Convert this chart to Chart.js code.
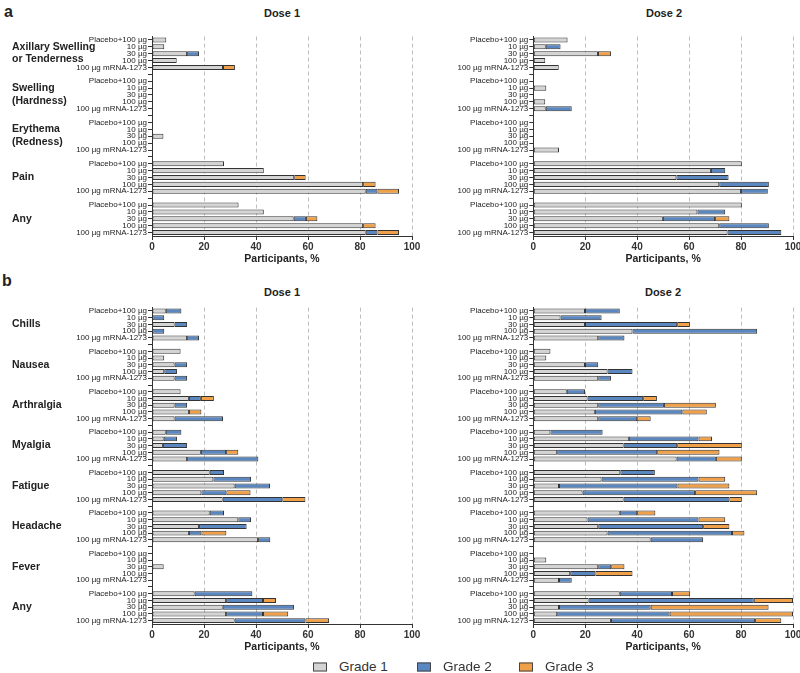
<!DOCTYPE html>
<html>
<head>
<meta charset="utf-8">
<script src="https://cdn.jsdelivr.net/npm/chart.js@4.4.1/dist/chart.umd.min.js"></script>
<style>
  body { margin: 0; background: #fff; font-family: Arial, 'Liberation Sans', sans-serif; color: #222; }
  #page { position: relative; width: 800px; height: 673px; overflow: hidden; }
  canvas { position: absolute; }
  .txt { position: absolute; font-weight: bold; white-space: nowrap; transform: translate(-50%, -50%); }
  .letter { font-size: 16px; transform: translate(0, -50%); }
  .dose { font-size: 11px; }
  .legend-box { position: absolute; width: 14px; height: 9px; border: 1px solid #444; box-sizing: border-box; transform: translateY(-50%); }
  .legend-text { position: absolute; font-size: 13.5px; color: #333; transform: translateY(-50%); }
</style>
</head>
<body>
<div id="page">
  <div class="txt letter" style="left:4px; top:12px;">a</div>
  <div class="txt dose" style="left:282px; top:13px;">Dose 1</div>
  <div class="txt dose" style="left:664px; top:13px;">Dose 2</div>
  <div class="txt letter" style="left:2px; top:281px;">b</div>
  <div class="txt dose" style="left:282px; top:292px;">Dose 1</div>
  <div class="txt dose" style="left:663px; top:292px;">Dose 2</div>

  <canvas id="a1" width="424" height="238" style="left:0; top:30px;"></canvas>
  <canvas id="a2" width="380" height="238" style="left:420px; top:30px;"></canvas>
  <canvas id="b1" width="424" height="356" style="left:0; top:300px;"></canvas>
  <canvas id="b2" width="380" height="356" style="left:420px; top:300px;"></canvas>

  <div id="legend"></div>
</div>
<script>
  /* DATA */

  const doseLabels = ['Placebo+100 µg', '10 µg', '30 µg', '100 µg', '100 µg mRNA-1273'];
  const localGroups = ['Axillary Swelling\nor Tenderness', 'Swelling\n(Hardness)', 'Erythema\n(Redness)', 'Pain', 'Any'];
  const systemicGroups = ['Chills', 'Nausea', 'Arthralgia', 'Myalgia', 'Fatigue', 'Headache', 'Fever', 'Any'];
  const gradeNames = ['Grade 1', 'Grade 2', 'Grade 3'];
  const xTickValues = [0, 20, 40, 60, 80, 100];

  // local reactions, % per grade, one row per group, in doseLabels order
  const localDose1Grade1 = [[5.5, 4.7, 13.5, 9.5, 27.3], [0, 0, 0, 0, 0], [0, 0, 4.4, 0, 0], [27.7, 43, 54.7, 81.2, 82.2], [33.3, 43, 54.5, 81.2, 82.2]];
  const localDose1Grade2 = [[0, 0, 4.6, 0, 0], [0, 0, 0, 0, 0], [0, 0, 0, 0, 0], [0, 0, 0, 0, 4.5], [0, 0, 4.7, 0, 4.5]];
  const localDose1Grade3 = [[0, 0, 0, 0, 4.6], [0, 0, 0, 0, 0], [0, 0, 0, 0, 0], [0, 0, 4.4, 4.8, 8.3], [0, 0, 4.4, 4.8, 8.3]];

  const localDose2Grade1 = [[13.2, 4.8, 24.9, 4.6, 9.8], [0, 5, 0, 4.6, 4.8], [0, 0, 0, 0, 9.9], [80.3, 68.4, 55.1, 71.6, 80], [80.3, 63.2, 49.9, 71.6, 74.8]];
  const localDose2Grade2 = [[0, 5.7, 0, 0, 0], [0, 0, 0, 0, 10], [0, 0, 0, 0, 0], [0, 5.5, 20.1, 19.1, 10.3], [0, 10.7, 20.1, 19.1, 20.7]];
  const localDose2Grade3 = [[0, 0, 5, 0, 0], [0, 0, 0, 0, 0], [0, 0, 0, 0, 0], [0, 0, 0, 0, 0], [0, 0, 5.5, 0, 0]];

  // systemic reactions
  const systemicDose1Grade1 = [[5.3, 0, 8.7, 0, 13.5], [11, 4.7, 8.7, 4.7, 8.7], [11, 14.2, 8.7, 14.2, 8.7], [5.3, 4.5, 4.2, 18.8, 13.5], [22.2, 23.6, 31.8, 19, 27.2], [22.2, 33.2, 18.1, 14.2, 40.8], [0, 0, 4.5, 0, 0], [16.4, 28.5, 27.2, 28.5, 31.8]];
  const systemicDose1Grade2 = [[6, 4.7, 4.8, 4.7, 4.6], [0, 0, 4.8, 4.9, 4.8], [0, 4.6, 4.8, 0, 18.6], [6, 5.1, 9.3, 9.7, 27.4], [5.5, 14.5, 13.6, 9.6, 22.9], [5.5, 4.9, 18.3, 4.8, 4.7], [0, 0, 0, 0, 0], [22.2, 14.2, 27.4, 14.2, 27.2]];
  const systemicDose1Grade3 = [[0, 0, 0, 0, 0], [0, 0, 0, 0, 0], [0, 5, 0, 4.8, 0], [0, 0, 0, 4.7, 0], [0, 0, 0, 9.3, 8.9], [0, 0, 0, 9.6, 0], [0, 0, 0, 0, 0], [0, 5, 0, 9.7, 9.1]];

  const systemicDose2Grade1 = [[19.9, 10.5, 19.9, 38.2, 25], [6.6, 5, 19.9, 28.6, 25], [12.9, 20.9, 25, 23.7, 25], [6.6, 36.8, 34.8, 9.2, 55.2], [33.5, 26.3, 9.9, 19, 34.8], [33.3, 20.9, 25, 28.6, 45.2], [0, 5, 25, 14.2, 9.9], [33.3, 21.3, 9.9, 9.2, 29.9]];
  const systemicDose2Grade2 = [[13.4, 15.8, 35.5, 48, 10.1], [0, 0, 5.1, 9.6, 4.9], [7, 21.4, 25.3, 33.7, 15], [20.1, 26.8, 20.6, 38.5, 15.1], [13.3, 37.3, 45.6, 43.3, 40.7], [6.7, 42.7, 40.4, 47.9, 20.2], [0, 0, 5, 9.7, 4.9], [20.1, 63.6, 35.3, 43.3, 55.5]];
  const systemicDose2Grade3 = [[0, 0, 4.9, 0, 0], [0, 0, 0, 0, 0], [0, 5.3, 20, 9.4, 5.2], [0, 5.2, 24.9, 24, 10], [0, 10.3, 20, 23.9, 4.8], [7, 10.3, 10.1, 4.8, 0], [0, 0, 5.1, 14.3, 0], [7, 15.1, 45.4, 47.5, 10.1]];

  /* STYLE */

  var gradeColors = ['#d4d4d4', '#5b87c0', '#f0a048'];
  var tickFont = { family: 'Arial, "Liberation Sans", sans-serif', size: 8 };

  /* HELPERS */

  // groups of five rows, with one empty row between groups
  var flatten = (groups) => {
    var out = [];
    groups.forEach((vals, i) => {
      if (i > 0) out.push(null);
      vals.forEach(v => out.push(v));
    });
    return out;
  };

  var rowLabels = (groups) => flatten(groups.map(() => doseLabels)).map(l => l === null ? '' : l);

  var groupLabelPlugin = (groups) => ({
    id: 'groupLabels',
    afterDraw: (chart) => {
      var ctx = chart.ctx;
      var y = chart.scales.y;
      ctx.save();
      ctx.font = 'bold 10.5px Arial, "Liberation Sans", sans-serif';
      ctx.fillStyle = '#222';
      ctx.textBaseline = 'middle';
      ctx.textAlign = 'left';
      groups.forEach((label, g) => {
        var lines = label.split('\n');
        var cy = y.getPixelForValue(g * 6 + 2);
        if (lines.length > 1) cy -= 0.5;
        lines.forEach((line, i) => ctx.fillText(line, 12, cy + (i - (lines.length - 1) / 2) * 12.5));
      });
      ctx.restore();
    }
  });

  var makeChart = (id, groups, grades, yWidth, padTop, padRight, showGroups) => {
    var config = {
      type: 'bar',
      data: {
        labels: rowLabels(groups),
        datasets: grades.map((vals, i) => ({
          label: gradeNames[i],
          data: flatten(vals),
          backgroundColor: gradeColors[i],
          borderColor: '#333',
          borderWidth: 1,
          borderSkipped: false,
          barPercentage: 0.74,
          categoryPercentage: 1
        }))
      },
      options: {
        indexAxis: 'y',
        responsive: false,
        animation: false,
        layout: { padding: { top: padTop, right: padRight, bottom: 0, left: 0 } },
        scales: {
          x: {
            stacked: true,
            min: 0,
            max: 100,
            afterBuildTicks: s => { s.ticks = xTickValues.map(v => ({ value: v })); },
            afterFit: s => { s.height = 32; s.paddingLeft = 0; s.paddingRight = 0; },
            ticks: { font: { family: 'Arial, sans-serif', size: 10, weight: 'bold' }, color: '#333', padding: 1 },
            grid: {
              color: c => c.tick && c.tick.value === 0 ? 'rgba(0,0,0,0)' : '#bdbdbd',
              lineWidth: 1,
              drawTicks: true,
              tickLength: 4,
              tickColor: '#333',
              tickBorderDash: []
            },
            border: { display: true, color: '#333', width: 1, dash: [4, 3] },
            title: {
              display: true,
              text: 'Participants, %',
              font: { family: 'Arial, sans-serif', size: 10.5, weight: 'bold' },
              color: '#222',
              padding: { top: 0, bottom: 3 }
            }
          },
          y: {
            stacked: true,
            afterFit: s => { s.width = yWidth; s.paddingTop = 0; s.paddingBottom = 0; },
            ticks: { autoSkip: false, font: tickFont, color: '#222', padding: 1 },
            grid: { drawOnChartArea: false, drawTicks: true, tickLength: 4, tickColor: '#333', offset: false },
            border: { display: true, color: '#333', width: 1 }
          }
        },
        plugins: {
          legend: { display: false },
          title: { display: false },
          tooltip: { enabled: false }
        }
      },
      plugins: showGroups ? [groupLabelPlugin(groups)] : []
    };

    return new Chart(document.getElementById(id), config);
  };

  makeChart('a1', localGroups, [localDose1Grade1, localDose1Grade2, localDose1Grade3], 152, 6.5, 12, true);
  makeChart('a2', localGroups, [localDose2Grade1, localDose2Grade2, localDose2Grade3], 113.3, 6.5, 7, false);
  makeChart('b1', systemicGroups, [systemicDose1Grade1, systemicDose1Grade2, systemicDose1Grade3], 152, 7.6, 12, true);
  makeChart('b2', systemicGroups, [systemicDose2Grade1, systemicDose2Grade2, systemicDose2Grade3], 113.3, 7.6, 7, false);

  // legend
  var legend = document.getElementById('legend');
  var boxLefts = [313, 417, 519];
  gradeNames.forEach((name, i) => {
    var box = document.createElement('div');
    box.className = 'legend-box';
    box.style.left = boxLefts[i] + 'px';
    box.style.top = '667px';
    box.style.background = gradeColors[i];
    legend.appendChild(box);

    var text = document.createElement('div');
    text.className = 'legend-text';
    text.style.left = (boxLefts[i] + 26) + 'px';
    text.style.top = '666px';
    text.textContent = name;
    legend.appendChild(text);
  });
</script>
</body>
</html>
